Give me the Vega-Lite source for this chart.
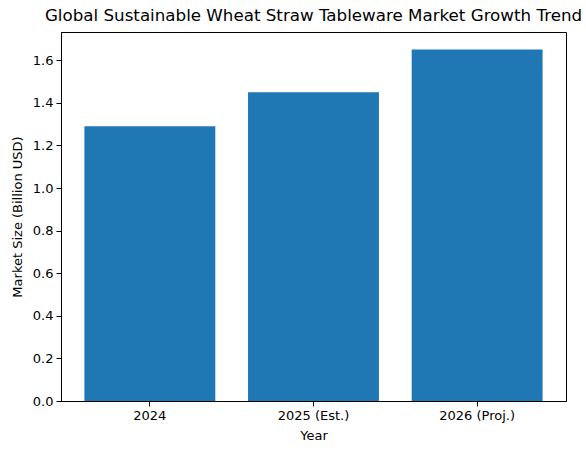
{
  "$schema": "https://vega.github.io/schema/vega-lite/v6.json",
  "width": 505,
  "height": 369,
  "autosize": {"type": "none"},
  "padding": {"left": 61, "top": 32, "right": 20, "bottom": 54},
  "background": "white",
  "config": {
    "font": "DejaVu Sans",
    "view": {"stroke": "black", "strokeWidth": 1},
    "axis": {
      "grid": false,
      "domainColor": "black",
      "tickColor": "black",
      "tickSize": 5,
      "labelColor": "black",
      "labelFontSize": 13,
      "titleFontSize": 13,
      "titleFontWeight": "normal",
      "titleColor": "black",
      "labelPadding": 3
    }
  },
  "title": {
    "text": "Global Sustainable Wheat Straw Tableware Market Growth Trend",
    "fontSize": 16.7,
    "fontWeight": "normal",
    "color": "black",
    "anchor": "middle",
    "offset": 7
  },
  "data": {
    "values": [
      {"year": "2024", "size": 1.29},
      {"year": "2025 (Est.)", "size": 1.45},
      {"year": "2026 (Proj.)", "size": 1.65}
    ]
  },
  "mark": {"type": "bar", "color": "#1f77b4"},
  "encoding": {
    "x": {
      "field": "year",
      "type": "nominal",
      "sort": null,
      "title": "Year",
      "scale": {"paddingInner": 0.2, "paddingOuter": 0.143},
      "axis": {"labelAngle": 0, "titlePadding": 7}
    },
    "y": {
      "field": "size",
      "type": "quantitative",
      "title": "Market Size (Billion USD)",
      "scale": {"domain": [0, 1.7325], "nice": false},
      "axis": {"values": [0, 0.2, 0.4, 0.6, 0.8, 1.0, 1.2, 1.4, 1.6], "format": ".1f", "titlePadding": 8}
    }
  }
}
